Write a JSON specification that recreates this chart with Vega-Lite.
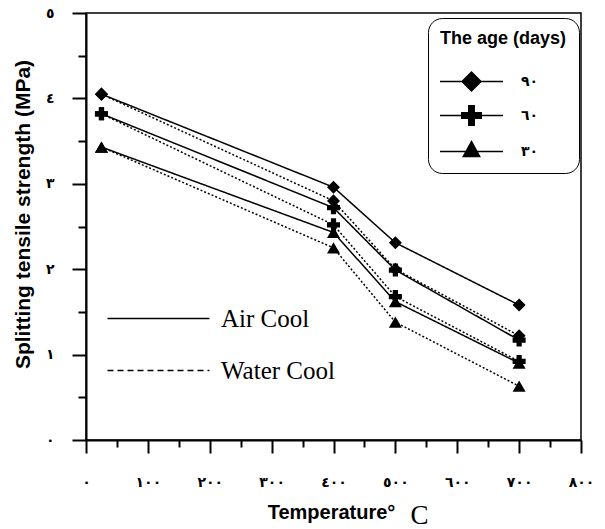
{
  "$schema": "https://vega.github.io/schema/vega-lite/v6.json",
  "width": 495,
  "height": 427,
  "autosize": {"type": "none"},
  "padding": {"left": 86, "top": 13, "right": 24, "bottom": 89},
  "background": "white",
  "config": {
    "font": "Liberation Sans",
    "view": {"stroke": "black", "strokeWidth": 1.5},
    "axis": {"grid": false, "domainColor": "black", "tickColor": "black", "labelColor": "black", "titleColor": "black", "domainWidth": 2, "tickWidth": 2, "labelFlush": false, "labelOverlap": false}
  },
  "data": {
    "values": [
      {"temp": 25, "strength": 4.05, "age": 90, "cooling": "Air Cool"},
      {"temp": 400, "strength": 2.96, "age": 90, "cooling": "Air Cool"},
      {"temp": 500, "strength": 2.31, "age": 90, "cooling": "Air Cool"},
      {"temp": 700, "strength": 1.58, "age": 90, "cooling": "Air Cool"},
      {"temp": 25, "strength": 4.05, "age": 90, "cooling": "Water Cool"},
      {"temp": 400, "strength": 2.80, "age": 90, "cooling": "Water Cool"},
      {"temp": 500, "strength": 2.00, "age": 90, "cooling": "Water Cool"},
      {"temp": 700, "strength": 1.22, "age": 90, "cooling": "Water Cool"},
      {"temp": 25, "strength": 3.82, "age": 60, "cooling": "Air Cool"},
      {"temp": 400, "strength": 2.72, "age": 60, "cooling": "Air Cool"},
      {"temp": 500, "strength": 1.99, "age": 60, "cooling": "Air Cool"},
      {"temp": 700, "strength": 1.17, "age": 60, "cooling": "Air Cool"},
      {"temp": 25, "strength": 3.82, "age": 60, "cooling": "Water Cool"},
      {"temp": 400, "strength": 2.52, "age": 60, "cooling": "Water Cool"},
      {"temp": 500, "strength": 1.68, "age": 60, "cooling": "Water Cool"},
      {"temp": 700, "strength": 0.92, "age": 60, "cooling": "Water Cool"},
      {"temp": 25, "strength": 3.43, "age": 30, "cooling": "Air Cool"},
      {"temp": 400, "strength": 2.43, "age": 30, "cooling": "Air Cool"},
      {"temp": 500, "strength": 1.62, "age": 30, "cooling": "Air Cool"},
      {"temp": 700, "strength": 0.90, "age": 30, "cooling": "Air Cool"},
      {"temp": 25, "strength": 3.43, "age": 30, "cooling": "Water Cool"},
      {"temp": 400, "strength": 2.25, "age": 30, "cooling": "Water Cool"},
      {"temp": 500, "strength": 1.38, "age": 30, "cooling": "Water Cool"},
      {"temp": 700, "strength": 0.63, "age": 30, "cooling": "Water Cool"}
    ]
  },
  "resolve": {"scale": {"shape": "independent", "strokeDash": "independent"}, "axis": {"x": "independent", "y": "independent"}},
  "layer": [
    {
      "mark": {"type": "line", "color": "black", "strokeWidth": 1.5},
      "encoding": {
        "x": {
          "field": "temp", "type": "quantitative",
          "scale": {"domain": [0, 800], "nice": false, "zero": false},
          "axis": {
            "orient": "bottom",
            "values": [0, 100, 200, 300, 400, 500, 600, 700, 800],
            "tickSize": 13,
            "labelExpr": "datum.value == 0 ? '٠' : ['٠','١','٢','٣','٤','٥','٦','٧','٨'][round(datum.value/100)] + '٠٠'",
            "labelFont": "DejaVu Sans", "labelFontSize": 14, "labelFontWeight": "bold", "labelPadding": 22,
            "title": "Temperature°", "titleFontSize": 20, "titleFontWeight": "bold",
            "titleX": 245, "titleY": 78, "titleAlign": "center", "titleBaseline": "alphabetic"
          }
        },
        "y": {
          "field": "strength", "type": "quantitative",
          "scale": {"domain": [0, 5], "nice": false, "zero": false},
          "axis": {
            "orient": "left",
            "values": [0, 1, 2, 3, 4, 5],
            "tickSize": 14,
            "labelExpr": "['٠','١','٢','٣','٤','٥'][round(datum.value)]",
            "labelFont": "DejaVu Sans", "labelFontSize": 14, "labelFontWeight": "bold", "labelPadding": 18,
            "title": "Splitting tensile strength (MPa)", "titleFontSize": 21, "titleFontWeight": "bold",
            "titleAngle": -90, "titleX": -57, "titleY": 201, "titleAlign": "center", "titleBaseline": "alphabetic"
          }
        },
        "detail": {"field": "age", "type": "nominal"},
        "strokeDash": {
          "field": "cooling", "type": "nominal",
          "scale": {"domain": ["Air Cool", "Water Cool"], "range": [[1, 0], [2, 2]]},
          "legend": null
        }
      }
    },
    {
      "mark": {"type": "line", "color": "black", "strokeWidth": 1.5, "opacity": 0},
      "encoding": {
        "x": {"field": "temp", "type": "quantitative", "axis": null},
        "y": {"field": "strength", "type": "quantitative", "axis": null},
        "detail": {"field": "age", "type": "nominal"},
        "strokeDash": {
          "field": "cooling", "type": "nominal",
          "scale": {"domain": ["Air Cool", "Water Cool"], "range": [[1, 0], [6, 4]]},
          "legend": {
            "orient": "none", "legendX": 19, "legendY": 293,
            "title": null, "padding": 0,
            "symbolType": "M-5,0H5", "symbolSize": 416, "symbolStrokeWidth": 1.5, "symbolStrokeColor": "black", "symbolOpacity": 1,
            "symbolOffset": 41, "labelOffset": 50, "rowPadding": 26,
            "labelFont": "Liberation Serif", "labelFontSize": 25, "labelFontWeight": "normal", "labelColor": "black"
          }
        }
      }
    },
    {
      "mark": {"type": "point", "filled": true, "color": "black", "opacity": 1, "size": 170},
      "encoding": {
        "x": {
          "field": "temp", "type": "quantitative",
          "axis": {"orient": "bottom", "values": [50, 150, 250, 350, 450, 550, 650, 750], "tickSize": 7, "labels": false, "domain": false, "title": null}
        },
        "y": {
          "field": "strength", "type": "quantitative",
          "axis": {"orient": "left", "values": [0.5, 1.5, 2.5, 3.5, 4.5], "tickSize": 8, "labels": false, "domain": false, "title": null}
        },
        "shape": {
          "field": "age", "type": "nominal",
          "scale": {"domain": [90, 60, 30], "range": ["diamond", "cross", "triangle-up"]},
          "legend": null
        }
      }
    },
    {
      "mark": {"type": "point", "filled": true, "color": "black", "opacity": 0},
      "encoding": {
        "x": {
          "field": "temp", "type": "quantitative",
          "axis": {"orient": "bottom", "labels": false, "ticks": false, "domain": false, "title": "C",
            "titleFont": "Liberation Serif", "titleFontWeight": "normal", "titleFontSize": 27,
            "titleX": 333, "titleY": 83, "titleAlign": "center", "titleBaseline": "alphabetic"}
        },
        "y": {"field": "strength", "type": "quantitative", "axis": null},
        "shape": {
          "field": "age", "type": "nominal",
          "scale": {"domain": [90, 60, 30], "range": [
            "M-3,-0.075H3V0.075H-3ZM-1,0L0,-1L1,0L0,1Z",
            "M-3,-0.075H3V0.075H-3ZM-1,-0.33H-0.33V-1H0.33V-0.33H1V0.33H0.33V1H-0.33V0.33H-1Z",
            "M-3,-0.075H3V0.075H-3ZM0,-1.1L0.9,0.54L-0.9,0.54Z"
          ]},
          "legend": {
            "orient": "none", "legendX": 342, "legendY": 5,
            "title": "The age (days)", "titleFontSize": 18, "titleFontWeight": "bold", "titleColor": "black", "titlePadding": 22,
            "padding": 12, "strokeColor": "black", "cornerRadius": 14, "fillColor": "white",
            "symbolSize": 441, "symbolOffset": 20, "labelOffset": 38, "rowPadding": 7,
            "symbolFillColor": "black", "symbolStrokeColor": "black", "symbolOpacity": 1,
            "labelExpr": "datum.value == 90 ? '٩٠' : datum.value == 60 ? '٦٠' : '٣٠'",
            "labelFont": "DejaVu Sans", "labelFontSize": 14, "labelFontWeight": "bold", "labelColor": "black"
          }
        }
      }
    }
  ]
}
